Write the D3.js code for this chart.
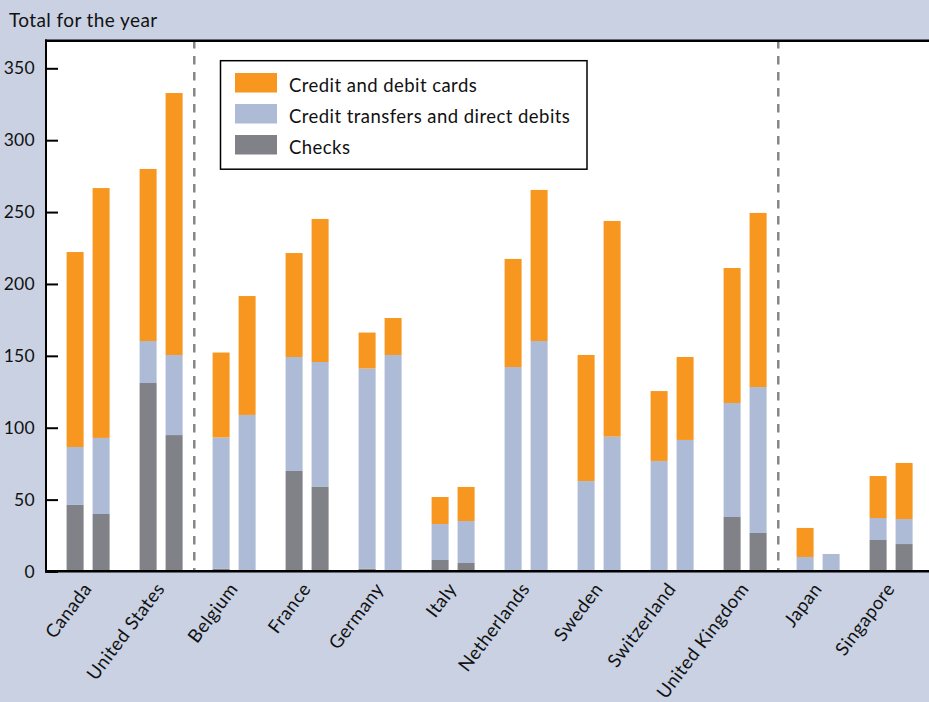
<!DOCTYPE html>
<html>
<head>
<meta charset="utf-8">
<script src="https://cdn.jsdelivr.net/npm/d3@7"></script>
<style>
  html, body { margin: 0; padding: 0; background: #c9d1e3; }
  svg { display: block; }
  text { font-family: Lato, "Open Sans", sans-serif; fill: #111; }
</style>
</head>
<body>
<svg id="chart" width="929" height="702"></svg>
<script>
// ---- data ----
const countries = ["Canada","United States","Belgium","France","Germany","Italy","Netherlands","Sweden","Switzerland","United Kingdom","Japan","Singapore"];
const periods = ["Earlier year","Later year"];
const seriesNames = ["Checks","Credit transfers and direct debits","Credit and debit cards"];
const legendOrder = ["Credit and debit cards","Credit transfers and direct debits","Checks"];
const yTicks = [0,50,100,150,200,250,300,350];
// groups separated by dashed lines (first country of the next group)
const groupBreaks = ["Belgium","Japan"];

const checksEarlier    = [46.3, 131.1, 2.0, 69.9, 2.0, 8.0, 0, 0, 0, 37.9, 0, 21.9];
const checksLater      = [40.0, 94.9, 0, 58.8, 0, 5.9, 0, 0, 0, 26.8, 0, 19.1];
const transfersEarlier = [40.3, 29.2, 91.2, 79.3, 139.2, 25.0, 142.2, 62.9, 76.9, 79.3, 10.1, 15.3];
const transfersLater   = [52.9, 55.7, 108.9, 86.9, 150.6, 29.2, 160.3, 93.8, 91.5, 101.5, 12.2, 17.4];
const cardsEarlier     = [135.6, 119.7, 59.1, 72.3, 25.0, 18.8, 75.2, 87.7, 48.6, 93.9, 20.2, 29.2];
const cardsLater       = [173.8, 182.2, 82.7, 99.5, 25.7, 23.7, 105.1, 150.0, 57.7, 121.1, 0, 39.0];

const colors = {
  "Credit and debit cards": "#f7971f",
  "Credit transfers and direct debits": "#adbbd6",
  "Checks": "#818287"
};

// ---- build table ----
const rows = [];
countries.forEach((c, i) => {
  rows.push({country: c, period: periods[0],
    "Checks": checksEarlier[i], "Credit transfers and direct debits": transfersEarlier[i], "Credit and debit cards": cardsEarlier[i]});
  rows.push({country: c, period: periods[1],
    "Checks": checksLater[i], "Credit transfers and direct debits": transfersLater[i], "Credit and debit cards": cardsLater[i]});
});

const plot = {left: 46, top: 41, right: 929, bottom: 571.5};

const svg = d3.select("#chart");

// plot background
svg.append("rect")
  .attr("x", plot.left).attr("y", plot.top)
  .attr("width", plot.right - plot.left).attr("height", plot.bottom - plot.top)
  .attr("fill", "#ffffff");

const x = d3.scaleBand().domain(countries).range([51.67, 927.67]).paddingInner(0).paddingOuter(0);
const xi = d3.scaleBand().domain(periods).range([14.93, 57.93]).paddingInner(0.346).paddingOuter(0);
const y = d3.scaleLinear().domain([0, 350]).range([plot.bottom, 68.3]);

// stacked bars
const stack = d3.stack().keys(seriesNames);
const stacked = stack(rows);

svg.append("g").selectAll("g")
  .data(stacked)
  .join("g")
  .attr("fill", d => colors[d.key])
  .selectAll("rect")
  .data(d => d.filter(p => p[1] - p[0] > 0))
  .join("rect")
  .attr("x", d => x(d.data.country) + xi(d.data.period))
  .attr("width", xi.bandwidth())
  .attr("y", d => y(d[1]))
  .attr("height", d => y(d[0]) - y(d[1]));

// dashed separators
svg.append("g").selectAll("line")
  .data(groupBreaks)
  .join("line")
  .attr("x1", d => x(d) - 3.4).attr("x2", d => x(d) - 3.4)
  .attr("y1", plot.top - 1).attr("y2", plot.bottom)
  .attr("stroke", "#868789")
  .attr("stroke-width", 2.5)
  .attr("stroke-dasharray", "8.5,7.5");

// y axis
const yAxis = d3.axisLeft(y).tickValues(yTicks).tickSizeInner(-12).tickSizeOuter(0).tickPadding(11);
const gy = svg.append("g").attr("transform", `translate(${plot.left},0)`).call(yAxis);
gy.select(".domain").remove();
gy.selectAll(".tick line").attr("stroke", "#000").attr("stroke-width", 2);
gy.selectAll(".tick text").attr("font-size", 17.5).attr("letter-spacing", 0.3)
  .attr("font-family", "Lato, 'Open Sans', sans-serif").attr("fill", "#111");

// frame lines
svg.append("line").attr("x1", plot.left - 1).attr("x2", plot.right).attr("y1", plot.top - 0.3).attr("y2", plot.top - 0.3)
  .attr("stroke", "#000").attr("stroke-width", 2.5);
svg.append("line").attr("x1", plot.left).attr("x2", plot.left).attr("y1", plot.top - 1.5).attr("y2", plot.bottom + 1.2)
  .attr("stroke", "#000").attr("stroke-width", 2);
svg.append("line").attr("x1", plot.left - 1).attr("x2", plot.right).attr("y1", plot.bottom - 0.3).attr("y2", plot.bottom - 0.3)
  .attr("stroke", "#000").attr("stroke-width", 2.6);

// x labels
svg.append("g").selectAll("text")
  .data(countries)
  .join("text")
  .attr("transform", d => `translate(${x(d) + x.bandwidth() / 2 + 4.5},589) rotate(-53)`)
  .attr("text-anchor", "end")
  .attr("font-size", 18.5)
  .attr("letter-spacing", 0.5)
  .text(d => d);

// title
svg.append("text").attr("x", 9).attr("y", 27).attr("font-size", 19).attr("letter-spacing", 0.4).text("Total for the year");

// legend
const lg = svg.append("g");
lg.append("rect").attr("x", 220.5).attr("y", 60.7).attr("width", 366.5).attr("height", 108.5)
  .attr("fill", "#fff").attr("stroke", "#000").attr("stroke-width", 1.5);
const ly = d3.scalePoint().domain(legendOrder).range([73, 135]);
const items = lg.selectAll("g.item").data(legendOrder).join("g").attr("class", "item")
  .attr("transform", d => `translate(235,${ly(d)})`);
items.append("rect").attr("width", 42).attr("height", 19.5).attr("fill", d => colors[d]);
items.append("text").attr("x", 54).attr("y", 19).attr("font-size", 18.5).attr("letter-spacing", 0.45).text(d => d);
</script>
</body>
</html>
